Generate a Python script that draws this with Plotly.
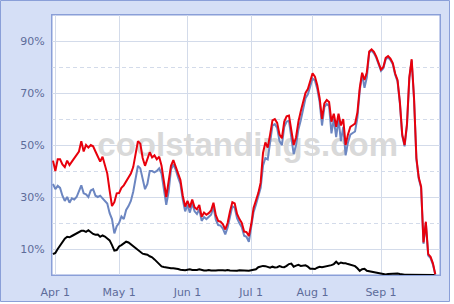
import plotly.graph_objects as go

# x = game number of the season
games = list(range(0, 163))

red_vals = [
    44, 40, 44.5, 44.5, 42.5, 41.5, 44, 42.3, 43.6, 45,
    46, 47.5, 51.5, 47.5, 50, 49, 50, 49.5, 47.5, 45.5,
    43.6, 45.5, 42.3, 39, 32.5, 26.5, 28, 31.4, 31.5, 33.5,
    34.5, 36, 37, 39, 41.5, 46, 51.5, 50.5, 45, 42,
    45, 47.2, 45.2, 46, 44.5, 45.5, 42, 36.7, 30, 36,
    42, 44.2, 41.5, 39, 36.5, 30.5, 26.3, 28.5, 26, 29,
    26, 25.3, 26.9, 22.4, 24, 23.2, 23.8, 24.8, 27.8, 23,
    20.8, 20.5, 19.5, 17.5, 20, 24.4, 28, 27.5, 23.5, 21.5,
    20, 16.7, 16.5, 15, 19.5, 25.8, 28.5, 31.5, 35.5, 47,
    51, 49, 54, 59.5, 60, 58.5, 54, 52.6, 59, 61,
    61.3, 56, 50, 53, 59, 63, 66.5, 70, 71.5, 75,
    77.6, 76.3, 73, 68, 60, 66, 67.3, 66.5, 59, 62,
    57, 62, 57.5, 60, 50, 54, 57, 57.6, 58.2, 62.5,
    72, 77.8, 75, 78, 86, 86.8, 85.8, 84, 81.5, 79,
    80, 83.5, 84.2, 83.2, 81.5, 77.5, 75, 66.5, 54, 50,
    58, 76, 83, 68, 45, 37.5, 34, 12.5, 20.5, 8,
    7, 4.5, 0.3,
]

blue_vals = [
    35, 33, 34.3, 33.5, 30.5, 28.5, 30, 27.8, 29.5, 29,
    30, 32.5, 34.5, 31.4, 31, 30, 32.5, 33, 30.5, 30,
    30.5, 29.5, 28.5, 27.5, 23.8, 21.5, 16, 18.8, 20, 22.5,
    21.5, 25, 26.5, 28.5, 32, 37, 42, 41, 37, 33,
    35, 40, 40, 39.5, 40, 41, 39, 33, 27, 32,
    40.5, 42.5, 40.5, 37.5, 35, 29, 24.5, 27, 24, 27.5,
    24.5, 23.5, 25.3, 20.8, 22.3, 21.5, 22.2, 23.2, 26.2, 21.3,
    19.2, 19, 17.8, 15.6, 18.3, 22.8, 26.4, 25.9, 21.9, 19.9,
    18.4, 15.1, 14.7, 12.8, 17.8, 24.2, 27, 30, 33.5, 42,
    45, 44.5, 51, 57.5, 58, 56.5, 51.5, 50, 57, 59,
    59.3, 53.5, 46.5, 50, 56, 59.5, 63.5, 68, 69.5, 73,
    75.6, 74.8, 71.5, 66.5, 57.5, 64.5, 65.8, 65, 54.5, 60,
    53, 60, 51.5, 57, 46, 51, 54, 54.6, 55.2, 60.5,
    71, 77.3, 72, 76, 85.5, 86.3, 85.3, 83.5, 81, 78.5,
    79.5, 83, 83.7, 82.7, 81, 77, 74.5, 66, 53.5, 49.5,
    57.5, 75.5, 82.5, 67.5, 44.5, 37, 33.5, 12, 20, 7.5,
    6.5, 4, 0.2,
]

black_vals = [
    8, 8.5, 10, 11.5, 13, 14, 14.7, 14.5, 15, 15.5,
    16, 16.7, 17, 17, 16.6, 17.2, 16.5, 15.8, 15.5, 15.6,
    14.7, 15.2, 14.8, 14, 13.3, 11.5, 9.4, 9.6, 11, 11.5,
    12, 12.8, 12.5, 11.8, 11, 10.2, 9.7, 8.8, 8.2, 8,
    7.8, 7.2, 6.8, 6, 5, 4.2, 3.3, 3.1, 2.9, 2.7,
    2.6, 2.6, 2.5, 2.3, 2, 1.9, 1.8, 2.0, 2.2, 1.9,
    1.8, 1.9, 2.2, 1.8, 1.7, 1.7, 1.9, 1.7, 1.6, 1.7,
    1.8, 1.9, 1.8, 1.7, 1.9, 1.7, 1.6, 1.7, 1.6, 1.8,
    1.7, 1.6, 1.5, 1.6, 1.8, 2, 2.2, 3, 3.4, 3.5,
    3.4, 3.2, 2.8, 3.2, 2.9, 3, 3.4, 3.1, 3, 3.5,
    4.2, 4.4, 3.2, 3.6, 3.9, 3.5, 3.5, 3.7, 3.2, 2.4,
    2.4, 2.3, 2.8, 3.2, 3, 3.2, 3.4, 3.4, 3.8, 4.2,
    5.1, 4.2, 4.8, 4.5, 4.5, 4.2, 4.0, 3.8, 3.4, 2.6,
    1.6, 2.2, 2.4, 1.6, 1.4, 1.2, 1, 0.8, 0.6, 0.5,
    0.3, 0.2, 0.4, 0.5, 0.6, 0.7, 0.6, 0.4, 0.2, 0.1,
    0.1, 0.1, 0.1, 0.1, 0, 0, 0, 0, 0, 0,
    0, 0, 0,
]

month_ticks = [1, 28, 57, 84, 110, 139]
month_labels = ["Apr 1", "May 1", "Jun 1", "Jul 1", "Aug 1", "Sep 1"]
y_ticks = [10, 30, 50, 70, 90]
y_labels = ["10%", "30%", "50%", "70%", "90%"]

FRAME_BG = "#d5dff6"
FRAME_LINE = "#8a9fd8"
GRID = "#d3dbea"
LABEL = "#5d6c9a"
FONT = "DejaVu Sans"

fig = go.Figure()

# watermark (drawn first so that lines go over it)
fig.add_trace(go.Scatter(
    x=[82.5], y=[49], mode="text", text=["coolstandings.com"],
    textfont=dict(family="Liberation Sans", size=33, color="#d9d9d9", weight="bold"),
    textposition="middle center", hoverinfo="skip", showlegend=False,
))

fig.add_trace(go.Scatter(x=games, y=black_vals, mode="lines",
                         line=dict(color="#000000", width=2), showlegend=False))
fig.add_trace(go.Scatter(x=games, y=blue_vals, mode="lines",
                         line=dict(color="#6c86c1", width=2), showlegend=False))
fig.add_trace(go.Scatter(x=games, y=red_vals, mode="lines",
                         line=dict(color="#e8000c", width=2), showlegend=False))

W, H = 454, 304
ml, mr, mt, mb = 52, 14, 15, 29
pw, ph = W - ml - mr, H - mt - mb

def px_to_paper_x(p):
    return (p - ml) / pw

def px_to_paper_y(p):
    return 1 - (p - mt) / ph

# outer light-blue frame
fig.add_shape(type="rect", xref="paper", yref="paper", layer="below",
              x0=px_to_paper_x(0.5), x1=px_to_paper_x(449.5),
              y0=px_to_paper_y(301.5), y1=px_to_paper_y(0.5),
              fillcolor=FRAME_BG, line=dict(color=FRAME_LINE, width=1))
fig.add_shape(type="rect", xref="paper", yref="paper", layer="below",
              x0=0, x1=1, y0=0, y1=1,
              fillcolor="white", line=dict(color=FRAME_LINE, width=1))

fig.update_layout(
    width=W, height=H,
    margin=dict(l=ml, r=mr, t=mt, b=mb, pad=0, autoexpand=False),
    paper_bgcolor="white", plot_bgcolor="white",
    font=dict(family=FONT, size=11, color=LABEL),
    showlegend=False,
    xaxis=dict(
        range=[-0.42, 164], tickmode="array", tickvals=month_ticks, ticktext=month_labels,
        showgrid=True, gridcolor=GRID, gridwidth=1, zeroline=False, automargin=False,
        showline=True, linecolor=FRAME_LINE, mirror=True, linewidth=1,
        ticks="outside", ticklen=7, tickcolor="rgba(0,0,0,0)",
        tickfont=dict(family=FONT, size=11, color=LABEL), layer="below traces",
    ),
    yaxis=dict(
        range=[0, 100], tickmode="array", tickvals=y_ticks, ticktext=y_labels,
        showgrid=True, gridcolor=GRID, gridwidth=1, zeroline=False, automargin=False,
        showline=True, linecolor=FRAME_LINE, mirror=True, linewidth=1,
        ticks="outside", ticklen=4, tickcolor="rgba(0,0,0,0)",
        tickfont=dict(family=FONT, size=11, color=LABEL), layer="below traces",
        minor=dict(tickmode="array", tickvals=[20, 40, 60, 80], showgrid=True,
                   gridcolor=GRID, griddash="4px,3px", gridwidth=1, ticks=""),
    ),
)

fig.write_html("out.html")
